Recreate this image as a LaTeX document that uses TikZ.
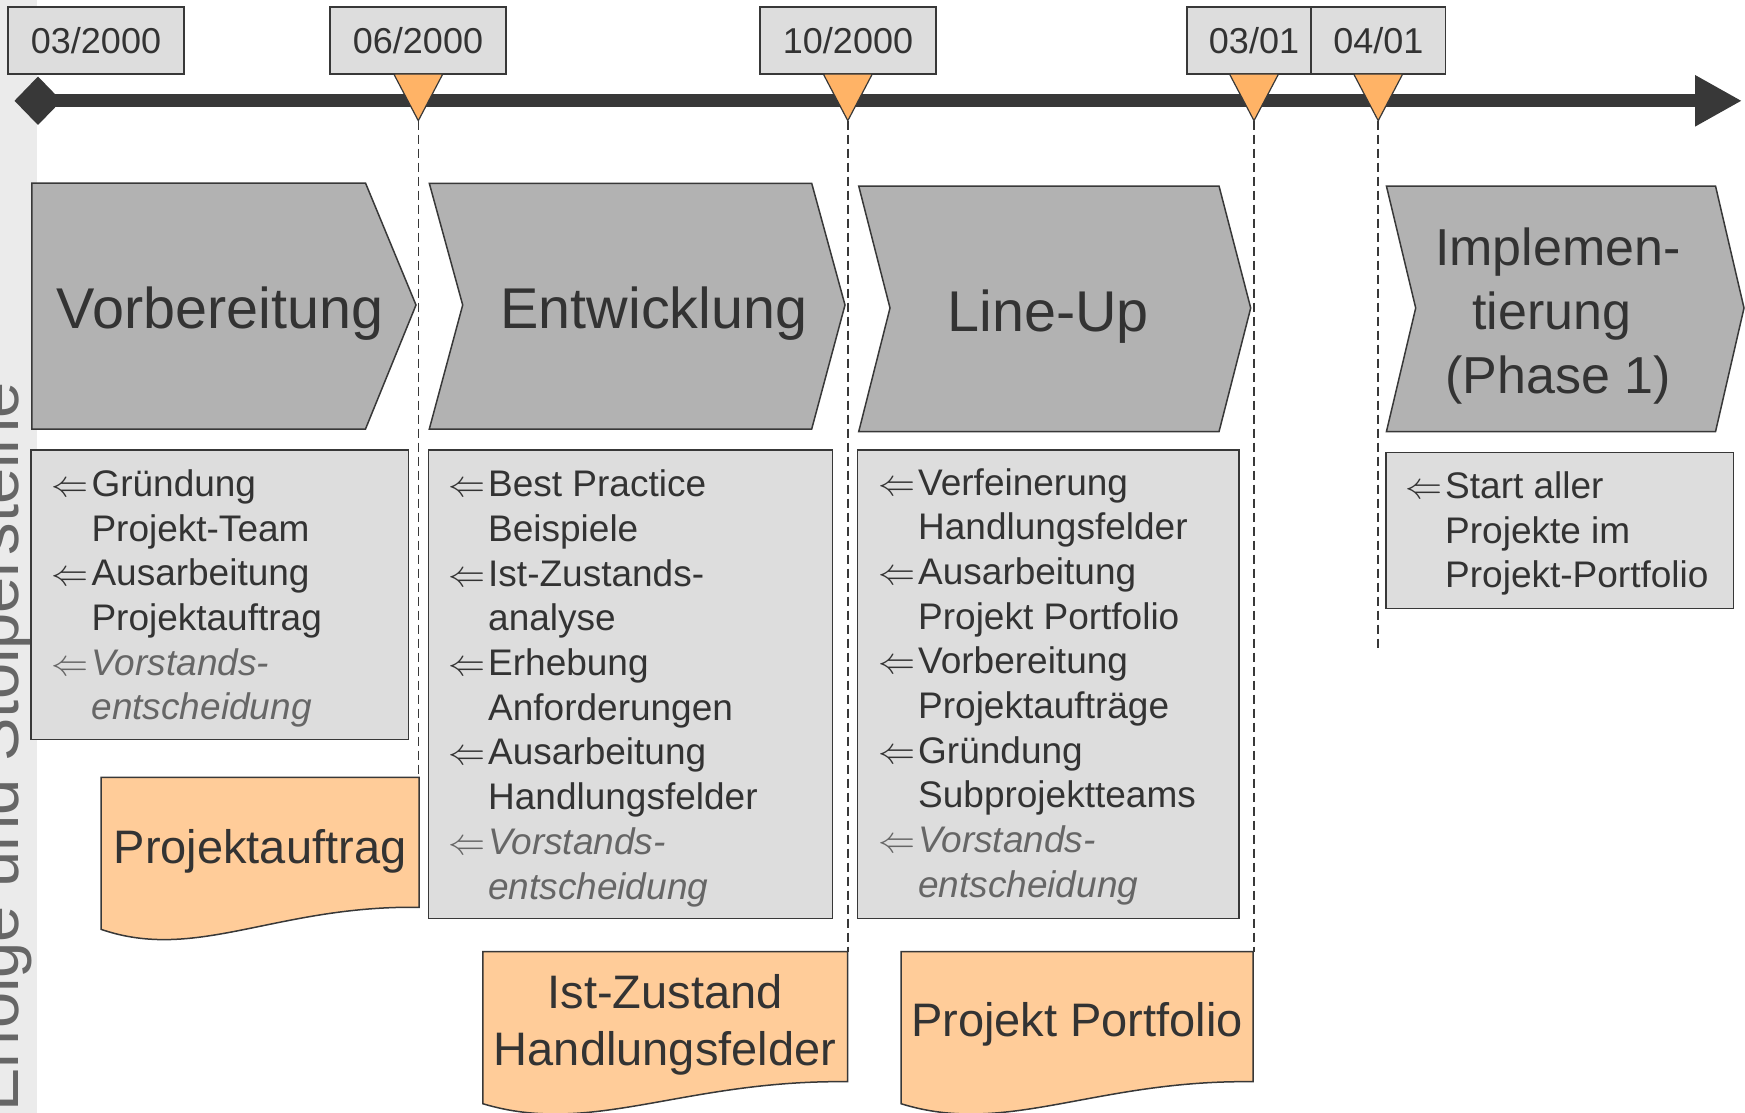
\RequirePackage{fix-cm}
\documentclass[tikz,border=0pt]{standalone}
\usepackage{fontspec}
\setmainfont{Liberation Sans}
\usetikzlibrary{arrows.meta,shapes.geometric}
\definecolor{txt}{HTML}{333333}
\definecolor{gtxt}{HTML}{666666}
\definecolor{bord}{HTML}{383838}
\definecolor{chevg}{HTML}{B2B2B2}
\definecolor{boxg}{HTML}{DDDDDD}
\definecolor{docc}{HTML}{FFCC99}
\definecolor{triC}{HTML}{FFB366}
\definecolor{bandc}{HTML}{EBEBEB}
\newcommand\arr{\llap{$\Leftarrow$\kern3pt}}
\newcommand\gr{\color{gtxt}\itshape}
\newcommand\msList[4]{%
  \foreach \t [count=\i] in {#4} {\node[li] (#1\i) at (#2,{#3+44.7*(\i-1)}) {\t};}}
\newcommand\msDoc[4]{%
  \draw[doc] (#2,#4) -- (#3,#4) -- (#3,{#4+130})
    .. controls ({#2+0.55*(#3-#2)},{#4+128}) and ({#2+0.3*(#3-#2)},{#4+185}) .. (#2,{#4+152}) -- cycle;}
\newcommand\msTri[2]{%
  \filldraw[tri] ({#1-24.5},74) -- ({#1+24.5},74) -- (#1,120.7) -- cycle;
  \coordinate (#2) at (#1,120.7);}
\begin{document}
\begin{tikzpicture}[x=1pt,y=-1pt,
  every node/.style={text=txt,inner sep=0pt},
  datebox/.style={draw=bord,fill=boxg,line width=1.5pt,minimum height=67pt,font=\fontsize{36}{43}\selectfont},
  chev/.style={draw=bord,fill=chevg,line width=1.5pt,line join=miter},
  chevt/.style={anchor=base,font=\fontsize{57.5}{69}\selectfont},
  implt/.style={anchor=base,font=\fontsize{52}{64}\selectfont},
  listbox/.style={draw=bord,fill=boxg,line width=1.5pt},
  li/.style={anchor=base west,font=\fontsize{37}{45}\selectfont},
  doc/.style={draw=bord,fill=docc,line width=1.5pt},
  doct/.style={anchor=base,font=\fontsize{47}{57}\selectfont},
  tri/.style={draw=bord,fill=triC,line width=1.2pt,line join=miter},
  dashln/.style={draw=bord,line width=1.5pt,dash pattern=on 9pt off 5pt},
  tline/.style={draw=bord,line width=13pt,-{Triangle[length=47pt 0 0,width=48pt 0 0]}}]
\useasboundingbox (0,0) rectangle (1745,1113);
\clip (0,0) rectangle (1745,1113);
% left band
\fill[bandc] (0,0) rectangle (37,1113);
\node[rotate=90,anchor=base west,text=gtxt,font=\fontsize{65}{70}\selectfont] (band) at (18,1112) {Erfolge und Stolpersteine};
% timeline
\coordinate (d0) at (38,100.8);
\fill[bord] (14.5,100.8) -- (38,76.5) -- (61.5,100.8) -- (38,125) -- cycle;
\coordinate (tend) at (1742,100.8);
\draw[tline] (d0) -- (tend);
% date boxes
\node[datebox,minimum width=176pt] (m1) at (96,40.5) {03/2000};
\node[datebox,minimum width=176pt] (m2) at (418,40.5) {06/2000};
\node[datebox,minimum width=176pt] (m3) at (848,40.5) {10/2000};
\node[datebox,minimum width=134pt] (m4) at (1254,40.5) {03/01};
\node[datebox,minimum width=134.6pt] (m5) at (1378.3,40.5) {04/01};
% milestone triangles
\msTri{418.3}{t1}
\msTri{847.8}{t2}
\msTri{1254}{t3}
\msTri{1378.2}{t4}
\coordinate (e1) at (418.3,777.3);
\coordinate (e2) at (847.8,951.7);
\coordinate (e3) at (1254,951.7);
\coordinate (e4) at (1378.2,650);
\draw[dashln] (t1) -- (e1);
\draw[dashln] (t2) -- (e2);
\draw[dashln] (t3) -- (e3);
\draw[dashln] (t4) -- (e4);
% chevrons
\draw[chev] (31.8,183) -- (365.5,183) -- (416,305) -- (365.5,429) -- (31.8,429) -- cycle;
\draw[chev] (429.3,183.3) -- (811.7,183.3) -- (845,305) -- (811.7,429) -- (429.3,429) -- (462.7,305) -- cycle;
\draw[chev] (858.7,186) -- (1219,186) -- (1250.7,308) -- (1219,431.7) -- (858.7,431.7) -- (890,308) -- cycle;
\draw[chev] (1386.4,186) -- (1715.5,186) -- (1744,308) -- (1715.5,431.7) -- (1386.4,431.7) -- (1415.7,308) -- cycle;
\node[chevt] (c1) at (220,328.3) {Vorbereitung};
\node[chevt] (c2) at (654,328.3) {Entwicklung};
\node[chevt] (c3) at (1048.3,331.7) {Line-Up};
\node[implt] (c4a) at (1558,265) {Implemen-};
\node[implt] (c4b) at (1552,329.3) {tierung};
\node[implt] (c4c) at (1558,393.3) {(Phase 1)};
% list boxes
\draw[listbox] (31,450) rectangle (408.3,739.3);
\draw[listbox] (428.3,450) rectangle (832.3,918.3);
\draw[listbox] (857.3,450) rectangle (1239,918.3);
\draw[listbox] (1386,452.7) rectangle (1733.3,608.3);
\msList{la}{91.3}{496.4}{{\arr Gründung},{Projekt-Team},{\arr Ausarbeitung},{Projektauftrag},{\gr\arr Vorstands-},{\gr entscheidung}}
\msList{lb}{488}{496.7}{{\arr Best Practice},{Beispiele},{\arr Ist-Zustands-},{analyse},{\arr Erhebung},{Anforderungen},{\arr Ausarbeitung},{Handlungsfelder},{\gr\arr Vorstands-},{\gr entscheidung}}
\msList{lc}{918}{495}{{\arr Verfeinerung},{Handlungsfelder},{\arr Ausarbeitung},{Projekt Portfolio},{\arr Vorbereitung},{Projektaufträge},{\arr Gründung},{Subprojektteams},{\gr\arr Vorstands-},{\gr entscheidung}}
\msList{ld}{1445}{498.3}{{\arr Start aller},{Projekte im},{Projekt-Portfolio}}
% documents
\msDoc{p1}{101}{419}{777.3}
\msDoc{p2}{482.8}{847.6}{951.7}
\msDoc{p3}{901}{1253}{951.7}
\node[doct] (q1) at (260,863.6) {Projektauftrag};
\node[doct] (q2a) at (665,1008.3) {Ist-Zustand};
\node[doct] (q2b) at (665,1065.7) {Handlungsfelder};
\node[doct] (q3) at (1077,1036.7) {Projekt Portfolio};
\end{tikzpicture}
\end{document}
